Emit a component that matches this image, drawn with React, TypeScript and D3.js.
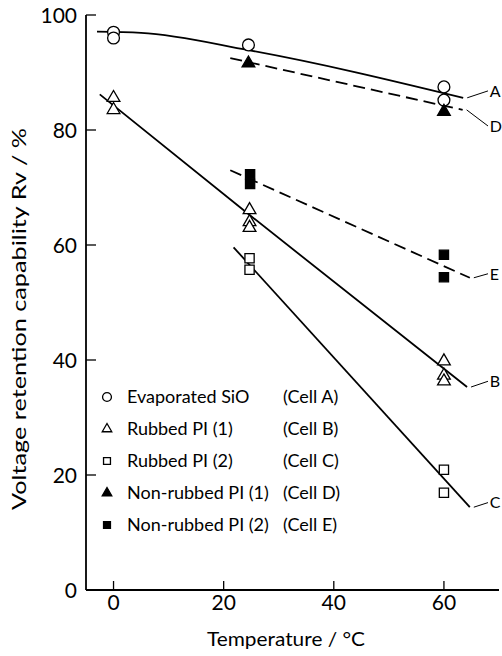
import React from 'react';
import * as d3 from 'd3';

const W = 502, H = 656;
const FONT = 'Lato, "DejaVu Sans", sans-serif';

const xTicks = [0, 20, 40, 60];
const yTicks = [0, 20, 40, 60, 80, 100];

// measured points (temperature, Rv)
const tempA = [0, 0, 24.5, 60, 60];
const valA = [97, 96, 94.8, 87.5, 85.2];
const tempB = [0, 0, 24.7, 24.7, 24.7, 60, 60, 60];
const valB = [85.6, 83.5, 66.1, 64.0, 63.0, 39.8, 37.3, 36.3];
const tempC = [24.7, 24.7, 60, 60];
const valC = [57.7, 55.7, 20.9, 16.9];
const tempD = [24.5, 60];
const valD = [91.6, 83.2];
const tempE = [24.8, 24.8, 60, 60];
const valE = [72.3, 70.6, 58.3, 54.4];

// hand-drawn trend lines
const lineTempA = [-3, 5, 24.5, 63.5];
const lineValA = [97.1, 96.9, 93.9, 85.6];
const lineTempB = [-2.5, 25, 64.2];
const lineValB = [86.2, 65.0, 35.3];
const lineTempC = [21.8, 64.7];
const lineValC = [59.6, 14.4];
const lineTempD = [21.2, 63.4];
const lineValD = [92.5, 83.5];
const lineTempE = [21.2, 64.7];
const lineValE = [73.0, 54.3];

const endLabels = ['A', 'B', 'C', 'D', 'E'];
const endLabelVal = [86.8, 36.3, 15.2, 80.7, 55.0];

const legendNames = ['Evaporated SiO', 'Rubbed PI (1)', 'Rubbed PI (2)', 'Non-rubbed PI (1)', 'Non-rubbed PI (2)'];
const legendCells = ['(Cell A)', '(Cell B)', '(Cell C)', '(Cell D)', '(Cell E)'];

const x = d3.scaleLinear().domain([-5, 70]).range([86, 499]);
const y = d3.scaleLinear().domain([0, 100]).range([590, 15]);

const zip = (a: number[], b: number[]) => a.map((v, i) => [v, b[i]] as [number, number]);

const seriesLines = [
  { pts: zip(lineTempA, lineValA), dash: null, curve: d3.curveMonotoneX },
  { pts: zip(lineTempB, lineValB), dash: null, curve: d3.curveLinear },
  { pts: zip(lineTempC, lineValC), dash: null, curve: d3.curveLinear },
  { pts: zip(lineTempD, lineValD), dash: '12,6', curve: d3.curveLinear },
  { pts: zip(lineTempE, lineValE), dash: '12,6', curve: d3.curveLinear },
];

const symbols = [
  { type: d3.symbolCircle, size: 110, fill: 'white' },
  { type: d3.symbolTriangle, size: 70, fill: 'white' },
  { type: d3.symbolSquare, size: 85, fill: 'white' },
  { type: d3.symbolTriangle, size: 70, fill: 'black' },
  { type: d3.symbolSquare, size: 85, fill: 'black' },
];

const seriesPts = [
  zip(tempA, valA), zip(tempB, valB), zip(tempC, valC), zip(tempD, valD), zip(tempE, valE),
];

function Marker({ i, cx, cy, scale = 1 }: { i: number; cx: number; cy: number; scale?: number }) {
  const s = symbols[i];
  const d = d3.symbol().type(s.type).size(s.size * scale * scale)()!;
  return <path d={d} transform={`translate(${cx},${cy})`} fill={s.fill} stroke="black" strokeWidth={1.3} />;
}

export default function App() {
  return (
    <div style={{ position: 'absolute', left: 0, top: 0 }}>
      <svg width={W} height={H} style={{ display: 'block', background: 'white' }} fontFamily={FONT}>
        {/* axes */}
        <line x1={x(-5)} x2={x(-5)} y1={y(0)} y2={y(100)} stroke="black" strokeWidth={1.8} />
        <line x1={x(-5)} x2={x(70)} y1={y(0)} y2={y(0)} stroke="black" strokeWidth={1.8} />
        {yTicks.map((t) => (
          <g key={t}>
            <line x1={x(-5)} x2={x(-5) + 10} y1={y(t)} y2={y(t)} stroke="black" strokeWidth={1.3} />
            <text x={77} y={y(t)} dy="0.36em" textAnchor="end" fontSize={21}>{t}</text>
          </g>
        ))}
        {xTicks.map((t) => (
          <g key={t}>
            <line x1={x(t)} x2={x(t)} y1={y(0)} y2={y(0) - 9} stroke="black" strokeWidth={1.3} />
            <text x={x(t)} y={610} textAnchor="middle" fontSize={21}>{t}</text>
          </g>
        ))}
        <text x={286} y={646} textAnchor="middle" fontSize={19} textLength={158} lengthAdjust="spacingAndGlyphs">
          Temperature / °C
        </text>
        <text transform="translate(26,319) rotate(-90)" textAnchor="middle" fontSize={19} textLength={382} lengthAdjust="spacingAndGlyphs">
          Voltage retention capability Rv / %
        </text>

        {/* trend lines */}
        {seriesLines.map((s, i) => {
          const gen = d3.line<[number, number]>().x((d) => x(d[0])).y((d) => y(d[1])).curve(s.curve);
          return (
            <path key={i} d={gen(s.pts)!} fill="none" stroke="black" strokeWidth={1.8}
              strokeDasharray={s.dash ?? undefined} />
          );
        })}

        {/* end labels */}
        {endLabels.map((lab, i) => {
          const pts = seriesLines[i].pts;
          const last = pts[pts.length - 1];
          return (
            <g key={lab}>
              <line x1={x(last[0]) + 4} y1={y(last[1])} x2={x(68)} y2={y(endLabelVal[i])} stroke="black" strokeWidth={1} />
              <text x={x(68.3)} y={y(endLabelVal[i])} dy="0.36em" fontSize={16}>{lab}</text>
            </g>
          );
        })}

        {/* markers */}
        {seriesPts.map((pts, i) =>
          pts.map((p, j) => <Marker key={`${i}-${j}`} i={i} cx={x(p[0])} cy={y(p[1])} />)
        )}

        {/* legend */}
        {legendNames.map((name, i) => {
          const base = 403 + i * 32;
          return (
            <g key={name}>
              <Marker i={i} cx={107} cy={base - 6} scale={0.75} />
              <text x={127} y={base} fontSize={18}>{name}</text>
              <text x={283} y={base} fontSize={18}>{legendCells[i]}</text>
            </g>
          );
        })}
      </svg>
    </div>
  );
}
